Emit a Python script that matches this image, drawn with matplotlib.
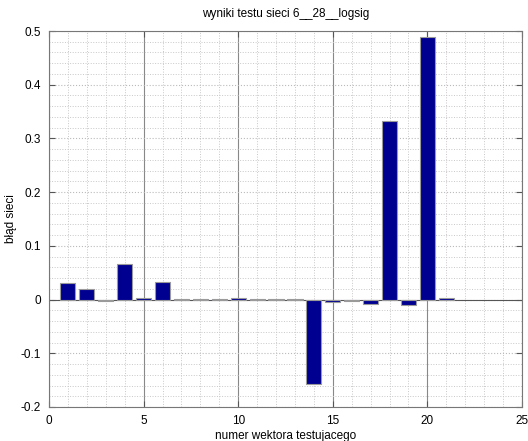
import numpy as np
import matplotlib.pyplot as plt
from matplotlib.ticker import MultipleLocator

# numer wektora testujacego i blad sieci dla kazdego wektora
wektory = np.arange(1, 22)
bledy = [0.031, 0.020, -0.003, 0.066, 0.002, 0.033, 0.001, 0.001, 0.001,
         0.003, 0.001, 0.001, 0.001, -0.157, -0.004, -0.002, -0.008,
         0.332, -0.011, 0.489, 0.003]

plt.rcParams['font.family'] = ['Liberation Sans', 'DejaVu Sans']

fig = plt.figure(figsize=(5.28, 4.41), dpi=100)
ax = fig.add_axes([0.0928, 0.0771, 0.8958, 0.8526])

ax.bar(wektory, bledy, width=0.8, color='#000090', edgecolor='#9a9a9a',
       linewidth=0.8, zorder=3)
ax.axhline(0, color='#555555', linewidth=0.8, zorder=2)

ax.set_xlim(0, 25)
ax.set_ylim(-0.2, 0.5)
ax.xaxis.set_major_locator(MultipleLocator(5))
ax.xaxis.set_minor_locator(MultipleLocator(1))
ax.yaxis.set_minor_locator(MultipleLocator(0.02))
ax.set_yticks(np.arange(-0.2, 0.51, 0.1))
ax.set_yticklabels(['-0.2', '-0.1', '0', '0.1', '0.2', '0.3', '0.4', '0.5'])

# siatka: glowne pionowe ciagle, reszta kropkowana
ax.grid(which='major', axis='x', color='#888888', linestyle='-', linewidth=0.8, zorder=1)
ax.grid(which='major', axis='y', color='#bbbbbb', linestyle=':', linewidth=0.8, zorder=1)
ax.grid(which='minor', axis='both', color='#c8c8c8', linestyle=':', linewidth=0.7, zorder=1)

ax.tick_params(which='both', direction='in', labelsize=8.5, top=True, right=True,
               color='#555555')
ax.tick_params(which='minor', length=0)
ax.tick_params(which='major', length=4, pad=6)
for s in ax.spines.values():
    s.set_color('#777777')
    s.set_linewidth(0.8)

ax.set_title('wyniki testu sieci 6__28__logsig', fontsize=8.5, pad=10)
ax.set_xlabel('numer wektora testujacego', fontsize=8.5)
ax.xaxis.set_label_coords(0.5, -0.06)
ax.set_ylabel('błąd sieci', fontsize=8.5)
ax.yaxis.set_label_coords(-0.068, 0.5)

fig.savefig('out.png', dpi=100)
